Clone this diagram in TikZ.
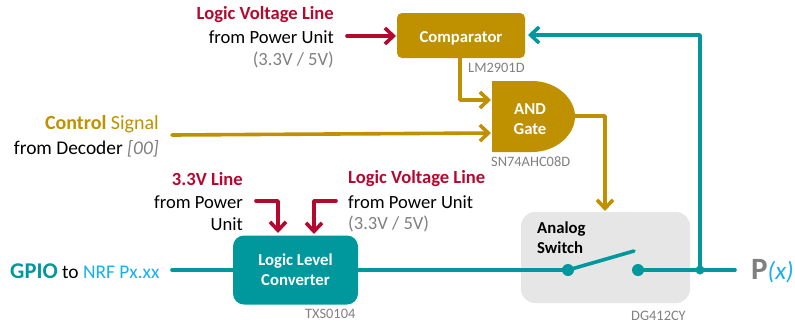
\documentclass[tikz,border=0pt]{standalone}
\usepackage{fontspec}
\setmainfont{Carlito}
\usetikzlibrary{arrows.meta,calc}
\definecolor{gold}{HTML}{BF9000}
\definecolor{teal1}{HTML}{00989C}
\definecolor{red1}{HTML}{B5082F}
\definecolor{grayt}{HTML}{808080}
\definecolor{sky}{HTML}{19AEF0}
\definecolor{swbg}{HTML}{E6E6E6}
\tikzset{
  x=1pt,y=-1pt,
  lbl/.style={inner sep=0pt,font=\fontsize{18.6}{21}\selectfont},
  lblb/.style={lbl,font=\fontsize{18.6}{21}\selectfont\bfseries},
  lblc/.style={lbl,font=\fontsize{20}{22}\selectfont},
  lbld/.style={lbl,font=\fontsize{19.4}{22}\selectfont},
  part/.style={inner sep=0pt,font=\fontsize{14.4}{15}\selectfont,text=grayt},
  inbox/.style={inner sep=0pt,font=\fontsize{16.7}{20}\selectfont\bfseries,align=center},
  wire/.style={line width=3.6pt,line join=round,line cap=round},
  tip/.style={-{Straight Barb[length=8.5pt,width=16pt,line width=3.6pt]}},
  goldw/.style={wire,draw=gold},
  tealw/.style={wire,draw=teal1},
  redw/.style={wire,draw=red1},
}
\begin{document}
\begin{tikzpicture}
\useasboundingbox (0,0) rectangle (795,325);
% blocks
\node[fill=swbg,rounded corners=14pt,minimum width=169pt,minimum height=91pt,inner sep=0pt] (sw) at (605.5,257.5) {};
\node[fill=gold,rounded corners=5pt,minimum width=128pt,minimum height=45pt,inner sep=0pt,text=white,inbox,text height=14pt,text depth=0pt] (cmp) at (461,35.5) {Comparator};
\node[fill=teal1,rounded corners=11pt,minimum width=125pt,minimum height=69pt,inner sep=0pt,text=white,inbox] (llc) at (295.5,270) {Logic Level\\Converter};
\fill[gold] (492,81) -- (532,81) .. controls (556,81) and (575,98) .. (575,116.5) .. controls (575,135) and (556,152) .. (532,152) -- (492,152) -- cycle;
\node[inbox,text=white] (and) at (530,119) {AND\\Gate};
\coordinate (andW) at (491,100);
\coordinate (andW2) at (491,133);
\coordinate (andE) at (575,116);
% labels
\node[lblb,anchor=east,text=red1] (l1) at (334,15) {Logic Voltage Line};
\node[lbl,anchor=east] (l2) at (334,37) {from Power Unit};
\node[lbl,anchor=east,text=grayt] (l3) at (334,60) {(3.3V / 5V)};
\node[lblc,anchor=east] (c1) at (159,124.5) {\textcolor{gold}{\bfseries Control} \textcolor{gold}{Signal}};
\node[lbld,anchor=east] (c2) at (159,149) {from Decoder \textcolor{grayt}{\itshape [00]}};
\node[lblb,anchor=east,text=red1] (v1) at (243,179) {3.3V Line};
\node[lbl,anchor=east] (v2) at (243,202) {from Power};
\node[lbl,anchor=east] (v3) at (243,224) {Unit};
\node[lblb,anchor=west,text=red1] (r1) at (348,179) {Logic Voltage Line};
\node[lbl,anchor=west] (r2) at (348,202) {from Power Unit};
\node[lbl,anchor=west,text=grayt] (r3) at (348,224) {(3.3V / 5V)};
\node[lbld,anchor=west] (g) at (10,271) {\textcolor{teal1}{\fontsize{22.5}{24}\selectfont\bfseries GPIO} to \textcolor{sky}{NRF Px.xx}};
\node[lbl,anchor=west] (p) at (751,271) {\textcolor{grayt}{\fontsize{31}{32}\selectfont\bfseries P}\textcolor{sky}{\fontsize{25}{26}\selectfont\itshape (x)}};
\node[inbox,text=black,align=left,anchor=north west] (swl) at (537,222) {Analog\\Switch};
% part numbers
\node[part,anchor=west] (p1) at (468,67.5) {LM2901D};
\node[part,anchor=west] (p2) at (491,162) {SN74AHC08D};
\node[part,anchor=west] (p3) at (305,314) {TXS0104};
\node[part,anchor=west] (p4) at (631,316) {DG412CY};
% free ends
\coordinate (a1) at (347,36);
\coordinate (a2) at (172,135);
\coordinate (a3) at (256,201);
\coordinate (a4) at (336,201);
\coordinate (a5) at (172,270);
\coordinate (a6) at (735,270);
\coordinate (sa) at (568,270);
\coordinate (sb) at (638,270);
\coordinate (sc) at (634,251);
\coordinate (j) at (700,270);
% connectors
\draw[redw,tip] (a1) -- (396,36);
\draw[redw,tip] (a3) -- (278,201) -- (278,233);
\draw[redw,tip] (a4) -- (314,201) -- (314,234);
\draw[goldw,tip] (460,58) -- (460,100) -- (andW);
\draw[goldw,tip] (a2) -- (andW2);
\draw[goldw,tip] (andE) -- (605,116) -- (605,211);
\draw[tealw] (a5) -- (llc.west);
\draw[tealw] (llc.east) -- (sa);
\draw[tealw] (sa) -- (sc);
\draw[tealw] (sb) -- (a6);
\draw[tealw,tip] (j) -- (700,35) -- (528,35);
\fill[teal1] (sa) circle (6pt) (sb) circle (6pt) (j) circle (4.5pt);
\end{tikzpicture}
\end{document}
